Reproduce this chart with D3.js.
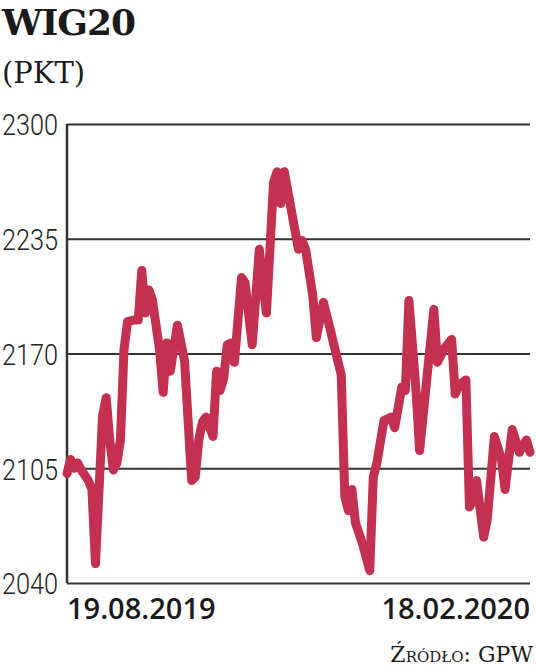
<!DOCTYPE html>
<html>
<head>
<meta charset="utf-8">
<script src="https://cdn.jsdelivr.net/npm/d3@7/dist/d3.min.js"></script>
<style>
  html, body { margin: 0; padding: 0; background: #fff; }
  svg { display: block; }
</style>
</head>
<body>
<svg id="chart" width="536" height="667"></svg>
<script>
// ---- data ----
const title = "WIG20";
const unit = "(PKT)";
const source = "Źródło: GPW";
// trading session index since 19.08.2019
const sessions = [0,1,2,3,4,6,7,8,10,11,12,13,14,15,16,17,19,20,21,22,23,24,26,27,28,29,31,33,34,35,36,37,38,39,41,42,43,44,45,46,47,49,50,52,54,55,56,58,59,60,61,63,65,66,67,69,70,72,74,76,77,78,79,80,81,83,85,86,87,89,91,92,94,95,96,98,99,101,103,104,106,108,109,110,112,113,114,115,117,118,120,122,123,125,127,128,129,130];
const values = [2102,2110,2105,2108,2104,2098,2093,2051,2135,2145,2121,2104,2108,2121,2172,2188,2189,2189,2217,2193,2206,2200,2172,2148,2176,2160,2186,2166,2132,2098,2100,2121,2131,2134,2123,2160,2149,2156,2175,2176,2165,2213,2210,2175,2229,2209,2193,2267,2273,2255,2273,2251,2229,2234,2229,2203,2179,2199,2183,2166,2158,2089,2081,2093,2074,2062,2047,2100,2108,2132,2134,2128,2151,2149,2200,2149,2115,2155,2195,2165,2173,2178,2147,2152,2155,2083,2087,2098,2066,2076,2123,2110,2093,2127,2114,2118,2121,2114];
const yTicks = [2040, 2105, 2170, 2235, 2300];
const xTickSessions = [0, 130];
const xTickLabels = ["19.08.2019", "18.02.2020"];

// ---- layout ----
const svg = d3.select("#chart");
const mLeft = 67, mRight = 530, mTop = 124, mBottom = 583;
const lineColor = "#c4304f";

const x = d3.scaleLinear().domain([0, 130]).range([mLeft, mRight]);
const y = d3.scaleLinear().domain([2040, 2300]).range([mBottom, mTop]);

// title
svg.append("text").attr("x", 2).attr("y", 35)
  .attr("font-family", "DejaVu Serif").attr("font-weight", "bold")
  .attr("font-size", 36).attr("letter-spacing", -1).attr("fill", "#1a1a1a")
  .text(title);
svg.append("text").attr("x", 2).attr("y", 83)
  .attr("font-family", "DejaVu Serif").attr("font-weight", 300)
  .attr("font-size", 29).attr("fill", "#1a1a1a")
  .text(unit);

// grid + y labels
const yAxis = d3.axisLeft(y).tickValues(yTicks).tickSize(-(mRight - mLeft)).tickPadding(9).tickFormat(d3.format("d"));
const gy = svg.append("g").attr("transform", `translate(${mLeft},0)`).call(yAxis);
gy.select(".domain").remove();
gy.selectAll(".tick line").attr("stroke", "#333").attr("stroke-width", 2);
gy.selectAll(".tick text")
  .attr("font-family", "Roboto, sans-serif")
  .attr("font-weight", 300)
  .attr("font-size", 30).attr("fill", "#222").attr("dy", "0.36em")
  .attr("textLength", 56).attr("lengthAdjust", "spacingAndGlyphs");

// left axis line
svg.append("line").attr("x1", mLeft).attr("x2", mLeft).attr("y1", y(2300)).attr("y2", y(2040))
  .attr("stroke", "#333").attr("stroke-width", 2.5);

// x labels
svg.selectAll("text.xl").data(xTickSessions).enter().append("text")
  .attr("class", "xl")
  .attr("x", d => x(d))
  .attr("y", 619)
  .attr("text-anchor", (d, i) => i === 0 ? "start" : "end")
  .attr("font-family", "'Open Sans', sans-serif").attr("font-weight", 600)
  .attr("font-size", 29).attr("fill", "#1a1a1a")
  .text((d, i) => xTickLabels[i]);

// line
const line = d3.line().x((d, i) => x(sessions[i])).y(d => y(d));
svg.append("path").datum(values)
  .attr("d", line)
  .attr("fill", "none").attr("stroke", lineColor)
  .attr("stroke-width", 9).attr("stroke-linejoin", "round").attr("stroke-linecap", "round");

// source
svg.append("text").attr("x", 533).attr("y", 662).attr("text-anchor", "end")
  .attr("font-family", "DejaVu Serif").attr("font-variant", "small-caps")
  .attr("font-size", 22).attr("fill", "#1a1a1a")
  .text(source);
</script>
</body>
</html>
